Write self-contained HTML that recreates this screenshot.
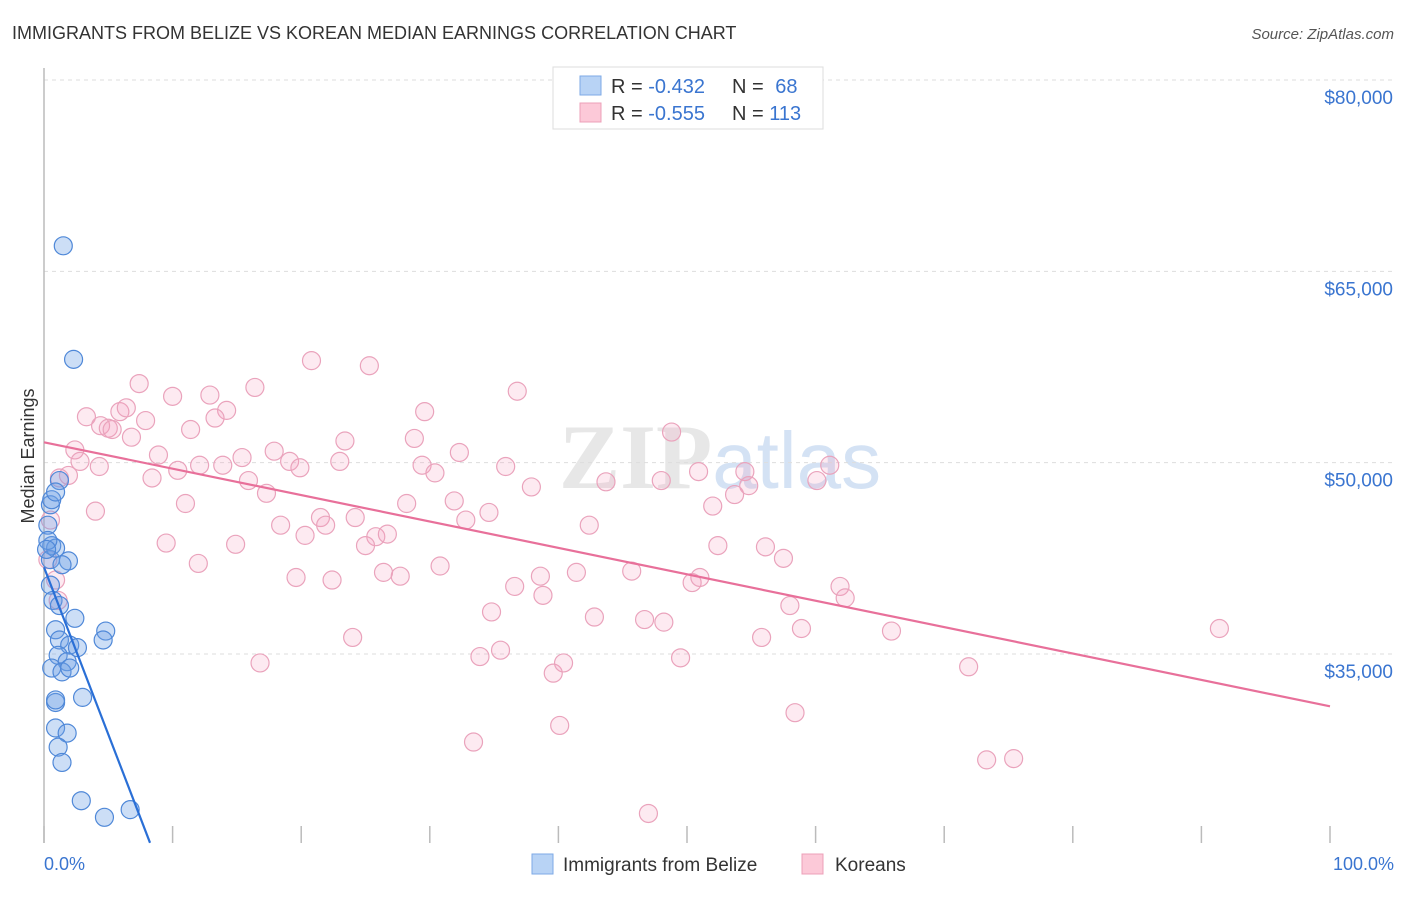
<!DOCTYPE html>
<html><head><meta charset="utf-8"><style>
body{margin:0;background:#fff;font-family:"Liberation Sans",sans-serif;}
svg text{font-family:"Liberation Sans",sans-serif;}
</style></head><body>
<svg id="chart" width="1406" height="892" xmlns="http://www.w3.org/2000/svg">
<text x="12" y="39" font-size="18" fill="#333">IMMIGRANTS FROM BELIZE VS KOREAN MEDIAN EARNINGS CORRELATION CHART</text>
<text x="1394" y="39" font-size="15" font-style="italic" fill="#555" text-anchor="end">Source: ZipAtlas.com</text>
<text x="720" y="488" font-size="92" text-anchor="middle" fill="#d8d8d8" opacity="0.6"><tspan font-family="Liberation Serif" font-weight="bold">ZIP</tspan><tspan fill="#b8d0ee" font-size="80">atlas</tspan></text>
<g id="grid"></g>
<g id="axes"></g>
<g id="pink"></g>
<g id="blue"></g>
<g id="lines"></g>
<text transform="translate(34,456) rotate(-90)" font-size="18" fill="#333" text-anchor="middle">Median Earnings</text>
<text x="44" y="870" font-size="18" fill="#3a75d0">0.0%</text>
<text x="1394" y="870" font-size="18" fill="#3a75d0" text-anchor="end">100.0%</text>
<g>
<rect x="553" y="67" width="270" height="62" fill="#fff" stroke="#ddd"/>
<rect x="580" y="76" width="21" height="19" fill="#b8d3f5" stroke="#7ea9e6"/>
<rect x="580" y="103" width="21" height="19" fill="#fcc9d8" stroke="#eca0b8"/>
<text x="611" y="93" font-size="20" fill="#333">R = <tspan fill="#3a75d0">-0.432</tspan></text>
<text x="732" y="93" font-size="20" fill="#333">N = <tspan fill="#3a75d0" dx="6">68</tspan></text>
<text x="611" y="120" font-size="20" fill="#333">R = <tspan fill="#3a75d0">-0.555</tspan></text>
<text x="732" y="120" font-size="20" fill="#333">N = <tspan fill="#3a75d0">113</tspan></text>
</g>
<g>
<rect x="532" y="854" width="21" height="20" fill="#b8d3f5" stroke="#7ea9e6"/>
<text x="563" y="871" font-size="19" fill="#333">Immigrants from Belize</text>
<rect x="802" y="854" width="21" height="20" fill="#fcc9d8" stroke="#eca0b8"/>
<text x="835" y="871" font-size="19" fill="#333">Koreans</text>
</g>
</svg>
<script>
const yTicks=[80000,65000,50000,35000];
const yTickLabels=["$80,000","$65,000","$50,000","$35,000"];
const xTicks=[0,10,20,30,40,50,60,70,80,90,100];
const blueX=[1.5,2.3,1.2,0.5,0.3,0.6,0.5,0.9,1.9,1.4,0.5,0.7,1.2,2.4,4.8,4.6,0.9,1.2,2.0,2.6,1.1,1.8,0.6,1.4,2.0,3.0,0.9,0.9,1.8,1.1,1.4,2.9,4.7,6.7,0.9,0.3,0.6,0.2,0.9];
const blueY=[67.0,58.1,48.6,46.7,45.1,43.5,42.4,43.3,42.3,42.0,40.4,39.2,38.8,37.8,36.8,36.1,36.9,36.1,35.7,35.5,34.9,34.4,33.9,33.6,33.9,31.6,31.2,29.2,28.8,27.7,26.5,23.5,22.2,22.8,31.4,43.9,47.1,43.2,47.7];
const pinkX=[7.4,3.3,4.4,5.9,6.4,7.9,5.0,5.3,6.8,10.0,12.9,16.4,20.8,25.3,36.8,14.2,13.3,11.4,8.9,2.4,2.8,1.9,4.3,8.4,10.4,12.1,13.9,15.4,17.9,19.1,19.9,23.0,23.4,28.8,29.6,32.3,29.4,30.4,35.9,37.9,43.7,48.0,48.8,50.9,54.5,53.7,54.8,60.1,61.1,11.0,4.0,15.9,17.3,18.4,20.3,21.5,21.9,24.2,25.8,26.7,25.0,28.2,31.9,32.8,34.6,42.4,52.0,52.4,56.1,57.5,9.5,14.9,12.0,19.6,22.4,26.4,27.7,30.8,36.6,38.6,38.8,41.4,45.7,50.4,51.0,61.9,62.3,34.8,42.8,46.7,48.2,58.0,58.9,65.9,91.4,24.0,16.8,33.9,35.5,39.6,40.4,49.5,55.8,71.9,33.4,40.1,58.4,73.3,75.4,47.0,1.2,0.5,0.9,1.1,0.3];
const pinkY=[56.2,53.6,52.9,54.0,54.3,53.3,52.7,52.6,52.0,55.2,55.3,55.9,58.0,57.6,55.6,54.1,53.5,52.6,50.6,51.0,50.1,49.0,49.7,48.8,49.4,49.8,49.8,50.4,50.9,50.1,49.6,50.1,51.7,51.9,54.0,50.8,49.8,49.2,49.7,48.1,48.5,48.6,52.4,49.3,49.3,47.5,48.2,48.6,49.8,46.8,46.2,48.6,47.6,45.1,44.3,45.7,45.1,45.7,44.2,44.4,43.5,46.8,47.0,45.5,46.1,45.1,46.6,43.5,43.4,42.5,43.7,43.6,42.1,41.0,40.8,41.4,41.1,41.9,40.3,41.1,39.6,41.4,41.5,40.6,41.0,40.3,39.4,38.3,37.9,37.7,37.5,38.8,37.0,36.8,37.0,36.3,34.3,34.8,35.3,33.5,34.3,34.7,36.3,34.0,28.1,29.4,30.4,26.7,26.8,22.5,48.8,45.5,40.8,39.2,42.4];
const blueLine=[41.8,-2.62]; // intercept (k$), slope per %
const pinkLine=[51.6,-0.207];
const NS="http://www.w3.org/2000/svg";
const xs=v=>44+v*12.86;
const ys=v=>80+(80-v)*12.756; // v in thousands
function mk(tag,attrs,parent){const e=document.createElementNS(NS,tag);for(const k in attrs)e.setAttribute(k,attrs[k]);parent.appendChild(e);return e;}
const grid=document.getElementById('grid'),axes=document.getElementById('axes');
yTicks.forEach((t,i)=>{const y=ys(t/1000);
const l=mk('line',{x1:44,x2:1394,y1:y,y2:y,stroke:'#ddd','stroke-dasharray':'4,4'},grid);


const tx=mk('text',{x:1393,y:y+24,'font-size':19,fill:'#3a75d0','text-anchor':'end'},grid);
tx.textContent=yTickLabels[i];

});
const ax=mk('line',{x1:44,x2:44,y1:68,y2:843,stroke:'#bbb','stroke-width':1.5},axes);


xTicks.forEach(t=>{const x=xs(t);
const l=mk('line',{x1:x,x2:x,y1:826,y2:843,stroke:'#bbb','stroke-width':1.5},axes);

});
const pg=document.getElementById('pink');
pinkX.forEach((x,i)=>{const c=mk('circle',{cx:xs(x),cy:ys(pinkY[i]),r:9,fill:'rgba(245,160,190,0.22)',stroke:'#eaa3bc','stroke-width':1.2},pg);

});
const bg=document.getElementById('blue');
blueX.forEach((x,i)=>{const c=mk('circle',{cx:xs(x),cy:ys(blueY[i]),r:9,fill:'rgba(110,160,230,0.35)',stroke:'#4f88d8','stroke-width':1.2},bg);

});
const lg=document.getElementById('lines');
const bEnd=(20.2-blueLine[0])/blueLine[1];
const bl=mk('line',{x1:xs(0),y1:ys(blueLine[0]),x2:xs(bEnd),y2:ys(blueLine[0]+blueLine[1]*bEnd),stroke:'#2a6fd6','stroke-width':2.2},lg);


const pl=mk('line',{x1:xs(0),y1:ys(pinkLine[0]),x2:xs(100),y2:ys(pinkLine[0]+pinkLine[1]*100),stroke:'#e8709a','stroke-width':2.2},lg);


</script>
</body></html>
